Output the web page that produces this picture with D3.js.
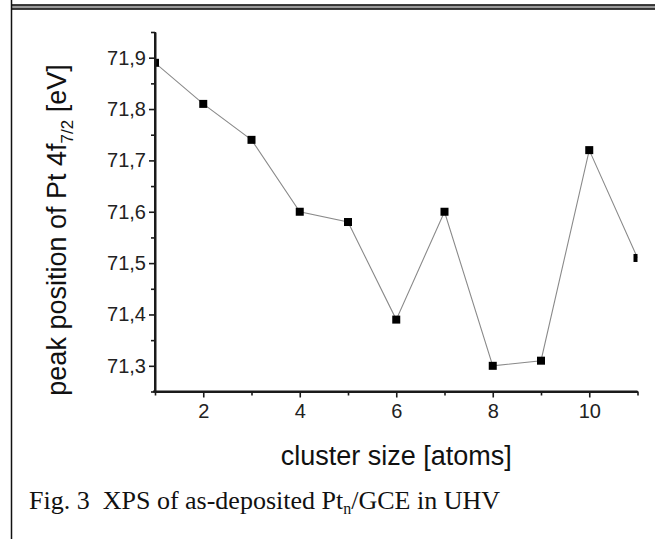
<!DOCTYPE html>
<html>
<head>
<meta charset="utf-8">
<script src="https://cdn.jsdelivr.net/npm/d3@7"></script>
<style>
  html, body { margin: 0; padding: 0; background: #ffffff; }
  svg { display: block; }
</style>
</head>
<body>
<script>
// ---- data ----
const clusterSizes = [1, 2, 3, 4, 5, 6, 7, 8, 9, 10, 11];
const peakPositions = [71.89, 71.81, 71.74, 71.60, 71.58, 71.39, 71.60, 71.30, 71.31, 71.72, 71.51];
const xTickValues = [2, 4, 6, 8, 10];
const xMinorTickValues = [1, 3, 5, 7, 9, 11];
const yTickValues = [71.3, 71.4, 71.5, 71.6, 71.7, 71.8, 71.9];
const yMinorTickValues = [71.25, 71.35, 71.45, 71.55, 71.65, 71.75, 71.85, 71.95];
const xTitle = "cluster size [atoms]";
const yTitleMain = "peak position of Pt 4f";
const yTitleSub = "7/2";
const yTitleEnd = " [eV]";
const captionMain = "Fig. 3\u00a0 XPS of as-deposited Pt";
const captionSub = "n";
const captionEnd = "/GCE in UHV";

(function () {
const W = 655, H = 539;
const svg = d3.select("body").append("svg").attr("width", W).attr("height", H);

svg.append("rect").attr("width", W).attr("height", H).attr("fill", "#ffffff");

// frame (document table borders)
svg.append("rect").attr("x", 11).attr("y", 4.5).attr("width", W - 11).attr("height", 5).attr("fill", "#9a9a9a");
svg.append("line").attr("x1", 11).attr("x2", W).attr("y1", 5).attr("y2", 5).attr("stroke", "#111").attr("stroke-width", 1.4);
svg.append("line").attr("x1", 11).attr("x2", W).attr("y1", 9).attr("y2", 9).attr("stroke", "#111").attr("stroke-width", 1.4);
svg.append("line").attr("x1", 11.5).attr("x2", 11.5).attr("y1", 0).attr("y2", H).attr("stroke", "#111").attr("stroke-width", 1.5);

// plot area
const pLeft = 155, pRight = 637.5, pTop = 32, pBottom = 391.5;
const x = d3.scaleLinear().domain([1, 11]).range([pLeft, pRight]);
const y = d3.scaleLinear().domain([71.25, 71.95]).range([pBottom, pTop]);

const fmt = d => d3.format(".1f")(d).replace(".", ",");

svg.append("defs").append("clipPath").attr("id", "plotclip")
  .append("rect").attr("x", pLeft).attr("y", pTop - 5).attr("width", pRight - pLeft).attr("height", pBottom - pTop + 5);

// line + markers
const g = svg.append("g").attr("clip-path", "url(#plotclip)");
const lineGen = d3.line().x((d, i) => x(clusterSizes[i])).y(d => y(d));
g.append("path").datum(peakPositions).attr("d", lineGen)
  .attr("fill", "none").attr("stroke", "#8a8a8a").attr("stroke-width", 1.1);
const ms = 8;
g.selectAll("rect.pt").data(peakPositions).enter().append("rect").attr("class", "pt")
  .attr("x", (d, i) => x(clusterSizes[i]) - ms / 2)
  .attr("y", d => y(d) - ms / 2)
  .attr("width", ms).attr("height", ms).attr("fill", "#000");

// axes
const axisColor = "#1a1a1a";
const xAxis = svg.append("g").attr("transform", `translate(0,${pBottom})`)
  .call(d3.axisBottom(x).tickValues(xTickValues).tickFormat(d3.format("d")).tickSizeInner(6).tickSizeOuter(0).tickPadding(6));
const xMinor = svg.append("g").attr("transform", `translate(0,${pBottom})`)
  .call(d3.axisBottom(x).tickValues(xMinorTickValues).tickFormat("").tickSizeInner(4).tickSizeOuter(0));
const yAxis = svg.append("g").attr("transform", `translate(${pLeft},0)`)
  .call(d3.axisLeft(y).tickValues(yTickValues).tickFormat(fmt).tickSizeInner(6).tickSizeOuter(0).tickPadding(3));
const yMinor = svg.append("g").attr("transform", `translate(${pLeft},0)`)
  .call(d3.axisLeft(y).tickValues(yMinorTickValues).tickFormat("").tickSizeInner(4).tickSizeOuter(0));

[xAxis, xMinor, yAxis, yMinor].forEach(a => {
  a.select(".domain").attr("stroke", axisColor).attr("stroke-width", 2);
  a.selectAll(".tick line").attr("stroke", axisColor).attr("stroke-width", 1.6);
});
xAxis.select(".domain").attr("d", `M${pLeft - 2},0H${pRight}`);
yAxis.select(".domain").attr("d", `M0,${pTop}V${pBottom + 1}`);
xAxis.selectAll(".tick text").attr("font-family", "Liberation Sans, Arial, sans-serif")
  .attr("font-size", 20).attr("fill", "#222");
yAxis.selectAll(".tick text").attr("font-family", "Liberation Sans, Arial, sans-serif")
  .attr("font-size", 20).attr("fill", "#222");

// axis titles
svg.append("text").attr("x", (pLeft + pRight) / 2).attr("y", 465)
  .attr("text-anchor", "middle").attr("font-family", "Liberation Sans, Arial, sans-serif")
  .attr("font-size", 27).attr("fill", "#111").text(xTitle);

const yt = svg.append("text").attr("transform", "translate(66,230) rotate(-90)")
  .attr("text-anchor", "middle").attr("font-family", "Liberation Sans, Arial, sans-serif")
  .attr("font-size", 27).attr("fill", "#111");
yt.append("tspan").text(yTitleMain);
yt.append("tspan").attr("font-size", 17).attr("dy", 7).text(yTitleSub);
yt.append("tspan").attr("dy", -7).text(yTitleEnd);

// caption
const cap = svg.append("text").attr("x", 29).attr("y", 509)
  .attr("font-family", "Liberation Serif, Times New Roman, serif")
  .attr("font-size", 26).attr("fill", "#111");
cap.append("tspan").text(captionMain);
cap.append("tspan").attr("font-size", 16).attr("dy", 5).text(captionSub);
cap.append("tspan").attr("dy", -5).text(captionEnd);
})();
</script>
</body>
</html>
